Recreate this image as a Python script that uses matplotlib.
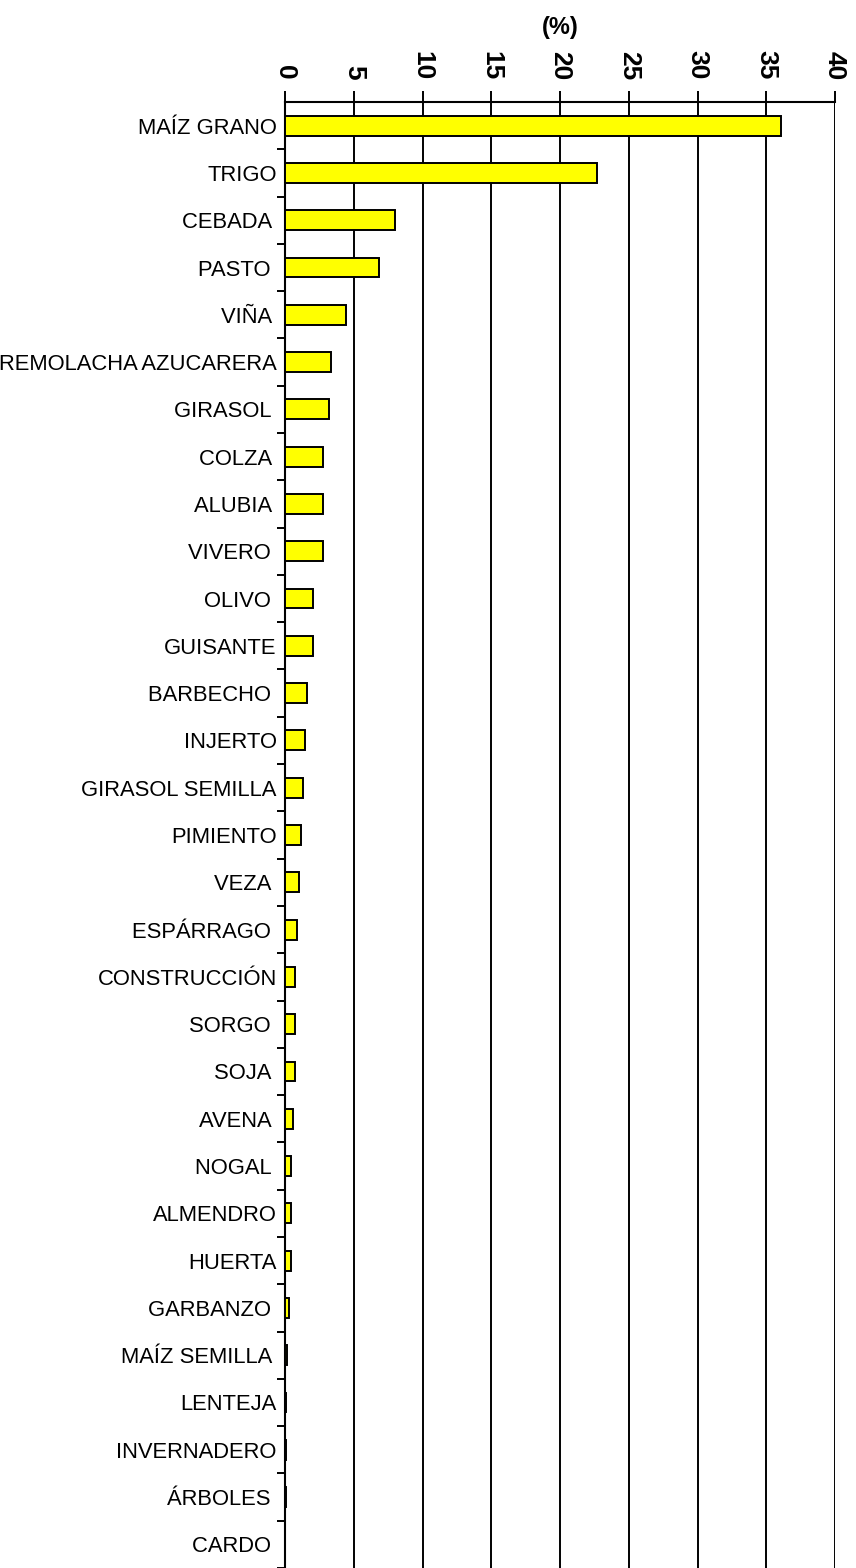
import matplotlib
matplotlib.use("Agg")
import matplotlib.pyplot as plt
import numpy as np

plt.rcParams['font.family'] = ['Liberation Sans', 'DejaVu Sans']

categories = ["MAÍZ GRANO", "TRIGO", "CEBADA ", "PASTO ", "VIÑA ",
              "REMOLACHA AZUCARERA", "GIRASOL ", "COLZA ", "ALUBIA ", "VIVERO ",
              "OLIVO ", "GUISANTE", "BARBECHO ", "INJERTO", "GIRASOL SEMILLA",
              "PIMIENTO", "VEZA ", "ESPÁRRAGO ", "CONSTRUCCIÓN", "SORGO ",
              "SOJA ", "AVENA ", "NOGAL ", "ALMENDRO", "HUERTA",
              "GARBANZO ", "MAÍZ SEMILLA ", "LENTEJA", "INVERNADERO", "ÁRBOLES ",
              "CARDO "]
values = [36.1, 22.7, 8.0, 6.8, 4.4,
          3.35, 3.2, 2.75, 2.75, 2.75,
          2.0, 2.0, 1.6, 1.45, 1.3,
          1.15, 1.0, 0.85, 0.73, 0.73,
          0.73, 0.6, 0.44, 0.44, 0.44,
          0.3, 0.12, 0.1, 0.1, 0.1,
          0.0]
xticks = [0, 5, 10, 15, 20, 25, 30, 35, 40]
xlabel = "(%)"

fig = plt.figure(figsize=(8.56, 15.68), dpi=100)
ax = fig.add_axes([285/856, 0.0, 550/856, 1 - 102/1568])

y = np.arange(len(categories))
ax.barh(y, values, height=0.42, color='#FFFF00', edgecolor='black', linewidth=1.4, zorder=3)

ax.set_xlim(0, 40)
ax.set_ylim(30.23, -0.5)

ax.xaxis.tick_top()
ax.xaxis.set_label_position('top')
ax.set_xticks(xticks)
ax.set_xticklabels([str(t) for t in xticks], rotation=-90, ha='center', va='bottom',
                   fontweight='bold', fontsize=19)
ax.tick_params(axis='x', direction='out', length=8, width=1.4, pad=8, colors='black')
ax.set_xlabel(xlabel, fontweight='bold', fontsize=17, labelpad=12)

ax.set_yticks(y)
ax.set_yticklabels(categories, fontsize=15.8)
ax.set_yticks(np.arange(len(categories)) + 0.5, minor=True)
ax.tick_params(axis='y', which='major', length=0, pad=6)
ax.tick_params(axis='y', which='minor', length=6, width=1.4, direction='out')

ax.grid(axis='x', color='black', linewidth=1.4, zorder=0)
ax.set_axisbelow(True)

for s in ['left', 'top']:
    ax.spines[s].set_linewidth(1.5)
    ax.spines[s].set_color('black')
ax.spines['right'].set_visible(False)
ax.spines['bottom'].set_visible(False)

fig.savefig('out.png', dpi=100)
